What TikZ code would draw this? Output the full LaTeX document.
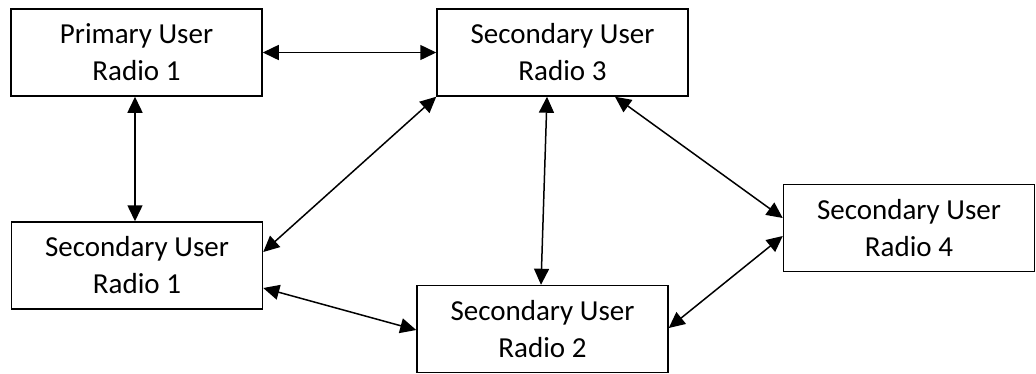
\documentclass[tikz,border=0pt]{standalone}
\usepackage{fontspec}
\setmainfont{Carlito}
\usetikzlibrary{arrows.meta,positioning}

\begin{document}
\begin{tikzpicture}[x=1pt,y=-1pt,
    radio/.style={draw,line width=1.5pt,minimum width=251pt,minimum height=87pt,
      inner sep=0pt,align=center,font=\fontsize{29}{37}\selectfont},
    link/.style={{Triangle[length=16pt,width=15pt]}-{Triangle[length=16pt,width=15pt]},
      line width=1.5pt}]
  \useasboundingbox (0,0) rectangle (1036,373);
  % radios
  \node[radio] (pu1) at (136.5,52.5) {Primary User\\Radio 1};
  \node[radio] (su3) at (562.5,52.5) {Secondary User\\Radio 3};
  \node[radio] (su1) at (137,265.5)  {Secondary User\\Radio 1};
  \node[radio] (su2) at (542.5,329)  {Secondary User\\Radio 2};
  \node[radio] (su4) at (909,228)    {Secondary User\\Radio 4};
  % links
  \draw[link] (pu1.east) -- (su3.west);
  \draw[link] ([xshift=-1.5pt]pu1.south) -- ([xshift=-2pt]su1.north);
  \draw[link] (su3.south west) -- ([yshift=13.5pt]su1.east);
  \draw[link] ([yshift=-22.5pt]su1.east) -- ([yshift=-1pt]su2.west);
  \draw[link] ([xshift=-15.5pt]su3.south) -- ([xshift=-1.5pt]su2.north);
  \draw[link] ([xshift=52.5pt]su3.south) -- ([yshift=10pt]su4.west);
  \draw[link] ([yshift=1pt]su2.east) -- ([yshift=-8pt]su4.west);
\end{tikzpicture}
\end{document}
